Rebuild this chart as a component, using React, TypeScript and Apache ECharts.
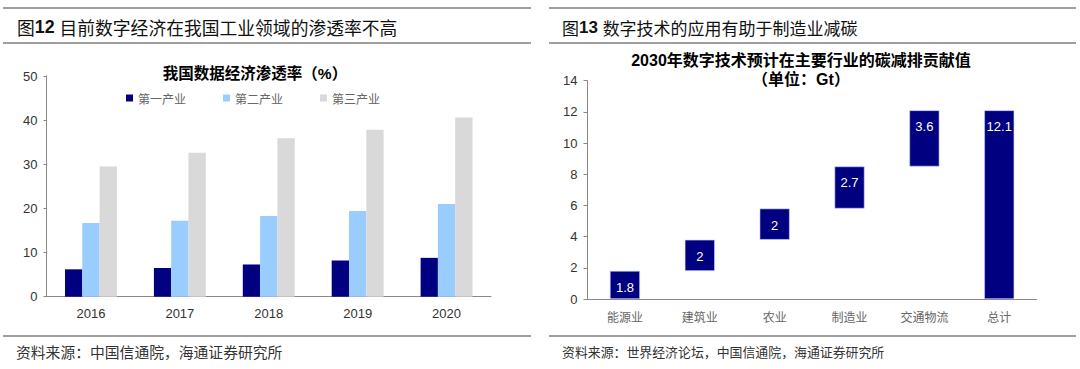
import React, { useEffect, useRef } from "react";
import * as echarts from "echarts";

const years = ["2016", "2017", "2018", "2019", "2020"];
const primary = [6.2, 6.5, 7.3, 8.2, 8.8];
const secondary = [16.7, 17.2, 18.3, 19.4, 21.0];
const tertiary = [29.5, 32.6, 35.9, 37.8, 40.6];
const seriesNames = ["第一产业", "第二产业", "第三产业"];

const sectors = ["能源业", "建筑业", "农业", "制造业", "交通物流", "总计"];
const reductions = [1.8, 2, 2, 2.7, 3.6, 12.1];
const isTotal = [false, false, false, false, false, true];

const FONT = "'Liberation Sans', Arial, 'Noto Sans CJK SC', sans-serif";
const LINE = "#7f7f7f";

export default function App() {
  const ref = useRef<HTMLDivElement>(null);
  useEffect(() => {
    if (!ref.current) return;
    const chart = echarts.init(ref.current, undefined, { renderer: "svg" });

    // waterfall base computed from the contributions
    const bases: number[] = [];
    let acc = 0;
    reductions.forEach((v, i) => {
      if (isTotal[i]) {
        bases.push(0);
      } else {
        bases.push(Math.round(acc * 10) / 10);
        acc += v;
      }
    });

    const hline = (x1: number, x2: number, y: number) => ({
      type: "line",
      shape: { x1, y1: y, x2, y2: y },
      style: { stroke: LINE, lineWidth: 1.5 },
    });
    const text = (x: number, y: number, t: string, extra: any = {}) => ({
      type: "text",
      x,
      y,
      style: {
        text: t,
        fontFamily: FONT,
        fontSize: 14,
        fill: "#000",
        textVerticalAlign: "middle",
        ...extra,
      },
    });

    const axisLabel = { fontFamily: FONT, fontSize: 13, color: "#333" };

    chart.setOption({
      animation: false,
      textStyle: { fontFamily: FONT },
      grid: [
        { left: 46.5, top: 76, right: 589, bottom: 72.3 },
        { left: 587.5, top: 80.7, right: 43.3, bottom: 70 },
      ],
      legend: {
        data: seriesNames,
        left: 121,
        top: 87,
        icon: "rect",
        itemWidth: 7,
        itemHeight: 7,
        itemGap: 37,
        textStyle: { fontFamily: "'Noto Sans CJK SC', serif", fontSize: 12, color: "#666" },
      },
      xAxis: [
        {
          type: "category",
          gridIndex: 0,
          data: years,
          axisLine: { lineStyle: { color: "#888" } },
          axisTick: { length: 5, lineStyle: { color: "#888" } },
          axisLabel: { ...axisLabel, margin: 10 },
        },
        {
          type: "category",
          gridIndex: 1,
          data: sectors,
          axisLine: { lineStyle: { color: "#888" } },
          axisTick: { length: 5, lineStyle: { color: "#888" } },
          axisLabel: {
            fontFamily: "'Noto Sans CJK SC', sans-serif",
            fontSize: 12,
            color: "#666",
            margin: 11,
            interval: 0,
          },
        },
      ],
      yAxis: [
        {
          type: "value",
          gridIndex: 0,
          min: 0,
          max: 50,
          interval: 10,
          splitLine: { show: false },
          axisLine: { show: true, lineStyle: { color: "#888" } },
          axisTick: { show: true, length: 3, lineStyle: { color: "#888" } },
          axisLabel: { ...axisLabel, margin: 9 },
        },
        {
          type: "value",
          gridIndex: 1,
          min: 0,
          max: 14,
          interval: 2,
          splitLine: { show: false },
          axisLine: { show: true, lineStyle: { color: "#888" } },
          axisTick: { show: true, length: 4, lineStyle: { color: "#888" } },
          axisLabel: { ...axisLabel, margin: 10 },
        },
      ],
      series: [
        {
          name: seriesNames[0],
          type: "bar",
          xAxisIndex: 0,
          yAxisIndex: 0,
          data: primary,
          barWidth: 17.3,
          barGap: "0%",
          itemStyle: { color: "#000080" },
        },
        {
          name: seriesNames[1],
          type: "bar",
          xAxisIndex: 0,
          yAxisIndex: 0,
          data: secondary,
          barWidth: 17.3,
          barGap: "0%",
          itemStyle: { color: "#99ccff" },
        },
        {
          name: seriesNames[2],
          type: "bar",
          xAxisIndex: 0,
          yAxisIndex: 0,
          data: tertiary,
          barWidth: 17.3,
          barGap: "0%",
          itemStyle: { color: "#d9d9d9" },
        },
        {
          name: "base",
          type: "bar",
          xAxisIndex: 1,
          yAxisIndex: 1,
          stack: "wf",
          data: bases,
          barWidth: 30,
          itemStyle: { color: "transparent" },
          silent: true,
        },
        {
          name: "reduction",
          type: "bar",
          xAxisIndex: 1,
          yAxisIndex: 1,
          stack: "wf",
          data: reductions,
          barWidth: 30,
          itemStyle: { color: "#000080", borderColor: "#c8d0ff", borderWidth: 0.6 },
          label: {
            show: true,
            position: "insideTop",
            distance: 10,
            color: "#fff",
            fontFamily: FONT,
            fontSize: 13,
          },
        },
      ],
      graphic: [
        hline(3, 531, 8),
        hline(3, 531, 43),
        hline(3, 531, 336),
        hline(549, 1076, 8),
        hline(549, 1076, 43),
        hline(549, 1076, 336),
        {
          type: "text",
          x: 17,
          y: 27,
          style: {
            text: "{a|图}{b|12 }{a|目前数字经济在我国工业领域的渗透率不高}",
            textVerticalAlign: "middle",
            rich: {
              a: { fontFamily: "'Noto Sans CJK SC', sans-serif", fontSize: 17.8, fill: "#111" },
              b: { fontFamily: FONT, fontSize: 17.8, fontWeight: "bold", fill: "#111" },
            },
          },
        },
        {
          type: "text",
          x: 562,
          y: 27,
          style: {
            text: "{a|图}{b|13 }{a|数字技术的应用有助于制造业减碳}",
            textVerticalAlign: "middle",
            rich: {
              a: { fontFamily: "'Noto Sans CJK SC', sans-serif", fontSize: 17, fill: "#111" },
              b: { fontFamily: FONT, fontSize: 17, fontWeight: "bold", fill: "#111" },
            },
          },
        },
        text(255, 73, "我国数据经济渗透率（%）", { fontSize: 15.5, fontWeight: "bold", textAlign: "center" }),
        text(801, 60, "2030年数字技术预计在主要行业的碳减排贡献值", {
          fontSize: 16,
          fontWeight: "bold",
          textAlign: "center",
        }),
        text(801, 79, "（单位：Gt）", { fontSize: 16, fontWeight: "bold", textAlign: "center" }),
        text(16, 351, "资料来源：中国信通院，海通证券研究所", {
          fontFamily: "'Noto Sans CJK SC', sans-serif",
          fontSize: 14.8,
          fill: "#333",
        }),
        text(562, 351, "资料来源：世界经济论坛，中国信通院，海通证券研究所", {
          fontFamily: "'Noto Sans CJK SC', sans-serif",
          fontSize: 12.9,
          fill: "#333",
        }),
      ],
    });
    return () => chart.dispose();
  }, []);
  return (
    <div
      ref={ref}
      style={{ position: "absolute", left: 0, top: 0, width: 1080, height: 369, background: "#fff" }}
    />
  );
}
